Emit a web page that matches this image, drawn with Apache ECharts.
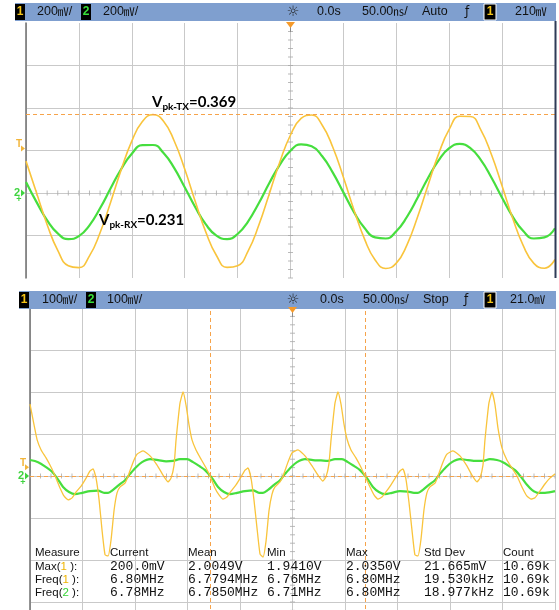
<!DOCTYPE html>
<html>
<head>
<meta charset="utf-8">
<script src="https://cdn.jsdelivr.net/npm/echarts@6/dist/echarts.min.js"></script>
<style>
  html, body { margin: 0; padding: 0; background: #fff; }
  #scope { width: 559px; height: 610px; }
</style>
</head>
<body>
<div id="scope"></div>
<script>
// ---- Upper capture: 200 mV/div, 50 ns/div (values in ns and mV) ----
const topTime = [-250,-240,-230,-220,-210,-200,-190,-180,-170,-160,-150,-140,-130,-120,-110,-100,-90,-80,-70,-60,-50,-40,-30,-20,-10,0,10,20,30,40,50,60,70,80,90,100,110,120,130,140,150,160,170,180,190,200,210,220,230,240,250];
const topCh1 = [150,0,-149,-270,-342,-351,-296,-187,-43,110,244,336,369,338,246,113,-40,-184,-294,-350,-342,-272,-152,-3,147,273,351,367,319,215,74,-80,-217,-315,-355,-330,-245,-114,37,184,299,361,360,296,180,33,-119,-248,-331,-354,-313];
const topCh2 = [52,-43,-129,-190,-217,-203,-152,-72,22,113,185,225,226,188,118,27,-67,-148,-201,-217,-193,-133,-48,47,134,199,229,220,173,96,3,-90,-165,-209,-214,-180,-113,-24,71,154,211,231,211,155,72,-22,-111,-179,-214,-209,-166];

// ---- Lower capture: 100 mV/div, 50 ns/div, [ns, mV] ----
const bottomCh1 = [
  [-250,171],[-246.1,121],[-243.2,86],[-239.4,62],[-234.7,43],[-229.9,21],[-226.1,0],[-221.3,-29],[-217.5,-48],[-213.7,-57],[-209.9,-52],[-206.1,-38],[-201.3,-24],[-196.6,-5],[-192.8,12],[-189.9,17],[-187.1,-5],[-184.2,-57],[-181.4,-129],[-178.5,-188],[-175.6,-190],[-172.8,-152],[-169.9,-81],[-167.1,-40],[-164.2,-26],[-159.5,-17],[-156.6,0],[-151.8,33],[-148.0,52],[-142.3,60],[-135.7,48],[-129.0,26],[-123.3,2],[-118.5,-14],[-115.7,-5],[-112.8,26],[-110.9,86],[-109.0,133],[-107.1,174],[-104.2,200],
  [-101.4,169],[-98.5,121],[-95.7,86],[-91.9,62],[-87.1,40],[-82.3,19],[-78.5,0],[-73.8,-29],[-70.0,-45],[-66.2,-55],[-62.4,-50],[-58.5,-36],[-53.8,-21],[-49.0,-2],[-45.2,14],[-42.4,19],[-39.5,-5],[-36.7,-57],[-33.8,-124],[-30.9,-186],[-28.1,-193],[-25.2,-155],[-22.4,-83],[-19.5,-43],[-16.7,-26],[-11.9,-14],[-9.0,0],[-4.3,33],[-0.5,55],[5.2,62],[11.9,48],[18.6,24],[24.3,2],[29.0,-12],[31.9,-2],[34.7,29],[36.7,86],[38.6,133],[40.5,174],[43.3,200],
  [46.2,171],[49.0,124],[51.9,88],[55.7,62],[60.4,43],[65.2,21],[69.0,0],[73.8,-26],[77.6,-45],[81.4,-55],[85.2,-50],[89.0,-38],[93.8,-21],[98.5,-2],[102.3,12],[105.2,17],[108.0,-7],[110.9,-62],[113.8,-129],[116.6,-188],[119.5,-190],[122.3,-152],[125.2,-81],[128.0,-40],[130.9,-26],[135.7,-17],[138.5,0],[143.3,33],[147.1,52],[152.8,60],[159.5,48],[166.1,24],[170.9,2],[175.7,-14],[178.5,-5],[181.4,26],[183.3,86],[185.2,133],[187.1,174],[190.0,200],
  [192.9,169],[195.7,114],[199.5,67],[204.2,38],[209.0,19],[213.8,0],[218.5,-26],[223.3,-48],[227.1,-55],[230.9,-52],[235.6,-36],[240.4,-19],[245.1,-5],[250,5]
];
const bottomCh2 = [
  [-250,38],[-242.3,33],[-234.7,21],[-229.0,10],[-224.2,-5],[-218.5,-26],[-212.8,-38],[-207.1,-43],[-200.4,-40],[-192.8,-36],[-185.2,-35],[-179.4,-40],[-175.6,-40],[-170.9,-33],[-165.2,-21],[-159.5,-10],[-154.7,5],[-149.0,21],[-143.3,33],[-135.7,40],[-128.0,38],[-120.4,35],[-113.8,36],[-107.1,40],[-100.4,40],
  [-94.7,33],[-89.0,24],[-83.3,14],[-76.6,-5],[-70.9,-26],[-65.2,-38],[-59.5,-43],[-52.8,-40],[-45.2,-36],[-37.6,-34],[-31.9,-40],[-28.1,-40],[-23.3,-33],[-17.6,-21],[-11.9,-10],[-7.1,5],[-1.4,21],[4.3,33],[11.9,40],[19.5,38],[27.1,37],[33.8,36],[40.5,40],[47.1,40],
  [52.8,33],[58.5,24],[64.3,14],[70.9,-5],[76.6,-26],[82.3,-38],[88.1,-43],[94.7,-40],[102.3,-36],[110.0,-37],[115.7,-40],[119.5,-40],[124.2,-33],[129.9,-21],[135.7,-10],[140.4,5],[146.1,21],[151.8,33],[159.5,40],[167.1,38],[174.7,36],[181.4,36],[188.0,40],
  [194.7,38],[200.4,33],[206.1,24],[211.9,14],[217.6,-2],[223.3,-21],[228.0,-33],[233.7,-40],[240.4,-40],[250,-36]
];

// Peak annotations (volts) and cursor / trigger settings
const vpkTX = 0.369;
const vpkRX = 0.231;
const cursorTimes = [-78.5, 69.0];      // ns, lower capture
const triggerLevels = [210, 21.0];      // mV on channel 1, upper / lower
const mvPerDiv = [200, 100];
const nsPerDiv = 50;

// Status bar texts
const topStatus = { ch1: '200', ch2: '200', delay: '0.0s', time: '50.00', mode: 'Auto', trig: '210' };
const bottomStatus = { ch1: '100', ch2: '100', delay: '0.0s', time: '50.00', mode: 'Stop', trig: '21.0' };

// Measurement table
const measureHeaders = ['Measure', 'Current', 'Mean', 'Min', 'Max', 'Std Dev', 'Count'];
const measureRows = [
  ['Max', '1', '200.0mV', '2.0049V', '1.9410V', '2.0350V', '21.665mV', '10.69k'],
  ['Freq', '1', '6.80MHz', '6.7794MHz', '6.76MHz', '6.80MHz', '19.530kHz', '10.69k'],
  ['Freq', '2', '6.78MHz', '6.7850MHz', '6.71MHz', '6.80MHz', '18.977kHz', '10.69k']
];

const YELLOW = '#f9c43c';
const GREEN = '#46de3e';
const ORANGE = '#f6a34a';
const GRIDC = '#c9c9c9';

const chart = echarts.init(document.getElementById('scope'), null, { renderer: 'canvas' });

function xAxisFor(g) {
  return {
    gridIndex: g, type: 'value', min: -5 * nsPerDiv, max: 5 * nsPerDiv, interval: nsPerDiv,
    axisLine: { show: false }, axisTick: { show: false }, axisLabel: { show: false },
    splitLine: { show: true, lineStyle: { color: GRIDC, width: 1 } }
  };
}
function yAxisFor(g, min, max, step) {
  return {
    gridIndex: g, type: 'value', min: min, max: max, interval: step,
    axisLine: { show: true, onZero: false, lineStyle: { color: '#6f6f6f', width: 1.5 } },
    axisTick: { show: false }, axisLabel: { show: false },
    splitLine: { show: true, showMinLine: false, showMaxLine: false, lineStyle: { color: GRIDC, width: 1 } }
  };
}

// minor graticule ticks on the centre cross-hair of each panel
function centreTicks(yMin, yMax, yStep) {
  const h = [], v = [];
  for (let t = -5 * nsPerDiv; t <= 5 * nsPerDiv + 1e-6; t += nsPerDiv / 5) h.push([t, 0]);
  for (let y = yMin; y <= yMax + 1e-6; y += yStep / 5) v.push([0, y]);
  return { h, v };
}
const tTop = centreTicks(-2 * mvPerDiv[0], 4 * mvPerDiv[0], mvPerDiv[0]);
const tBot = centreTicks(-4 * mvPerDiv[1], 4 * mvPerDiv[1], mvPerDiv[1]);

function tickSeries(g, data, size) {
  return {
    type: 'scatter', xAxisIndex: g, yAxisIndex: g, data: data, symbol: 'rect', symbolSize: size,
    itemStyle: { color: '#a9a9a9' }, silent: true, z: 1, animation: false
  };
}

const option = {
  animation: false,
  backgroundColor: '#ffffff',
  grid: [
    { left: 26, top: 23, width: 529, height: 255, outerBoundsMode: 'none' },
    { left: 30, top: 308, width: 525, height: 336, outerBoundsMode: 'none' }
  ],
  xAxis: [xAxisFor(0), xAxisFor(1)],
  yAxis: [
    yAxisFor(0, -2 * mvPerDiv[0], 4 * mvPerDiv[0], mvPerDiv[0]),
    yAxisFor(1, -4 * mvPerDiv[1], 4 * mvPerDiv[1], mvPerDiv[1])
  ],
  series: [
    tickSeries(0, tTop.h, [1, 5]),
    tickSeries(0, tTop.v, [5, 1]),
    tickSeries(1, tBot.h, [1, 5]),
    tickSeries(1, tBot.v, [5, 1]),
    {
      name: 'CH2 RX', type: 'line', xAxisIndex: 0, yAxisIndex: 0,
      data: topTime.map((t, i) => [t, topCh2[i]]),
      showSymbol: false, smooth: 0.5, lineStyle: { color: GREEN, width: 2.2 }, z: 3
    },
    {
      name: 'CH1 TX', type: 'line', xAxisIndex: 0, yAxisIndex: 0,
      data: topTime.map((t, i) => [t, topCh1[i]]),
      showSymbol: false, smooth: 0.5, lineStyle: { color: YELLOW, width: 1.6 }, z: 4,
      markLine: {
        silent: true, symbol: 'none', animation: false, label: { show: false },
        lineStyle: { color: ORANGE, type: [4, 3], width: 1 },
        data: [{ yAxis: vpkTX * 1000 }]
      }
    },
    {
      name: 'CH2 lower', type: 'line', xAxisIndex: 1, yAxisIndex: 1,
      data: bottomCh2, showSymbol: false, smooth: 0.3,
      lineStyle: { color: GREEN, width: 2.2 }, z: 3
    },
    {
      name: 'CH1 lower', type: 'line', xAxisIndex: 1, yAxisIndex: 1,
      data: bottomCh1, showSymbol: false, smooth: 0.15,
      lineStyle: { color: YELLOW, width: 1.3, join: 'round' }, z: 4,
      markLine: {
        silent: true, symbol: 'none', animation: false, label: { show: false },
        lineStyle: { color: ORANGE, type: [4, 3], width: 1 },
        data: [{ xAxis: cursorTimes[0] }, { xAxis: cursorTimes[1] }, { yAxis: 0 }]
      }
    }
  ]
};
chart.setOption(option);

// ---- overlay: status bars, level markers, annotations, measurement table ----
const SANS = 'Liberation Sans';
const MONO = 'Liberation Mono';
const CJK = 'Noto Sans CJK SC';

function txt(x, y, text, st) {
  return {
    type: 'text', x: x, y: y, silent: true, z: 120,
    style: Object.assign({ text: text, fill: '#111', fontSize: 12, fontFamily: SANS, verticalAlign: 'middle', align: 'left' }, st || {})
  };
}
function rect(x, y, w, h, st, z) {
  return { type: 'rect', silent: true, z: z || 110, shape: { x: x, y: y, width: w, height: h }, style: st };
}
const unitRich = {
  t: { fontSize: 12.5, fontFamily: SANS, fill: '#111' },
  u: { fontSize: 11, fontFamily: CJK, fill: '#111' }
};
function statusBar(y0, x0, s, pos) {
  const cy = y0 + 9;
  const els = [];
  els.push(rect(x0, y0, 556 - x0, 18, { fill: '#7f9fcf' }, 100));
  els.push(rect(pos.b1, y0 + 1, 10, 16, { fill: '#000' }));
  els.push(txt(pos.b1 + 5, cy, '1', { fill: '#f5c518', fontWeight: 'bold', align: 'center' }));
  els.push(txt(pos.v1, cy, '{t|' + s.ch1 + '}{u|㎷}{t|/}', { rich: unitRich }));
  els.push(rect(pos.b2, y0 + 1, 10, 16, { fill: '#000' }));
  els.push(txt(pos.b2 + 5, cy, '2', { fill: '#39e03a', fontWeight: 'bold', align: 'center' }));
  els.push(txt(pos.v2, cy, '{t|' + s.ch2 + '}{u|㎷}{t|/}', { rich: unitRich }));
  els.push(txt(293, cy, '☼', { fontFamily: 'DejaVu Sans', fontSize: 14, align: 'center', fill: '#222' }));
  els.push(txt(pos.d, cy, s.delay, { fontSize: 12.5 }));
  els.push(txt(pos.tb, cy, '{t|' + s.time + '}{u|㎱}{t|/}', { rich: unitRich }));
  els.push(txt(pos.m, cy, s.mode, { fontSize: 12.5 }));
  els.push(txt(pos.f, cy, 'ƒ', { fontFamily: 'DejaVu Sans', fontSize: 12 }));
  els.push(rect(484, y0 + 1, 12, 16, { fill: '#000', stroke: '#ffffff', lineWidth: 1 }));
  els.push(txt(490, cy, '1', { fill: '#f5c518', fontWeight: 'bold', align: 'center' }));
  els.push(txt(pos.tl, cy, '{t|' + s.trig + '}{u|㎷}', { rich: unitRich }));
  return els;
}

function levelMarkers(g, trigLevel) {
  const els = [];
  const gnd = chart.convertToPixel({ gridIndex: g }, [-5 * nsPerDiv, 0]);
  const trg = chart.convertToPixel({ gridIndex: g }, [-5 * nsPerDiv, trigLevel]);
  const x = gnd[0];
  // trigger level
  els.push({ type: 'polygon', silent: true, z: 120, shape: { points: [[x - 5, trg[1] - 3], [x - 1, trg[1]], [x - 5, trg[1] + 3]] }, style: { fill: '#f2b53a' } });
  els.push(txt(x - 7, trg[1] - 4, 'T', { fill: '#f2b53a', fontSize: 10, fontWeight: 'bold', align: 'center' }));
  // channel 2 ground
  els.push({ type: 'polygon', silent: true, z: 120, shape: { points: [[x - 5, gnd[1] - 3.5], [x - 1, gnd[1]], [x - 5, gnd[1] + 3.5]] }, style: { fill: '#3fd43f' } });
  els.push(txt(x - 9, gnd[1], '2', { fill: '#3fd43f', fontSize: 11, fontWeight: 'bold', align: 'center' }));
  els.push(txt(x - 7, gnd[1] + 7, '+', { fill: '#3fd43f', fontSize: 9, fontWeight: 'bold', align: 'center' }));
  // trigger time reference
  const tp = chart.convertToPixel({ gridIndex: g }, [0, g === 0 ? 4 * mvPerDiv[0] : 4 * mvPerDiv[1]]);
  els.push({ type: 'polygon', silent: true, z: 120, shape: { points: [[tp[0] - 4.5, tp[1] - 1], [tp[0] + 4.5, tp[1] - 1], [tp[0], tp[1] + 5]] }, style: { fill: '#f59a2a' } });
  els.push({ type: 'line', silent: true, z: 119, shape: { x1: tp[0], y1: tp[1] + 4, x2: tp[0], y2: tp[1] + 9 }, style: { stroke: '#8a8a8a', lineWidth: 1 } });
  return els;
}

const annRich = {
  v: { fontSize: 15, fontWeight: 'bold', fontFamily: 'Lato', fill: '#000', lineHeight: 20, verticalAlign: 'middle' },
  s: { fontSize: 10, fontWeight: 'bold', fontFamily: 'Lato', fill: '#000', lineHeight: 10, verticalAlign: 'bottom' }
};

function measureTable() {
  const els = [];
  const cols = [35, 110, 188, 267, 346, 424, 503];
  const rowsY = [553, 567, 580, 593];
  measureHeaders.forEach((h, i) => els.push(txt(cols[i], rowsY[0], h, { fontSize: 11.5 })));
  measureRows.forEach((r, j) => {
    const chColor = r[1] === '1' ? '#f0b400' : '#35d335';
    els.push(txt(cols[0], rowsY[j + 1], '{a|' + r[0] + '(}{c|' + r[1] + '}{a| ):}', {
      rich: { a: { fontSize: 11.5, fontFamily: SANS, fill: '#111' }, c: { fontSize: 11.5, fontFamily: SANS, fill: chColor } }
    }));
    for (let k = 2; k < r.length; k++) {
      els.push(txt(cols[k - 1], rowsY[j + 1], r[k], { fontFamily: MONO, fontSize: 13 }));
    }
  });
  return els;
}

const graphics = []
  .concat(statusBar(3, 15, topStatus, { b1: 15, v1: 37, b2: 81, v2: 103, d: 317, tb: 362, m: 422, f: 465, tl: 515 }))
  .concat(statusBar(291, 19, bottomStatus, { b1: 19, v1: 42, b2: 86, v2: 107, d: 320, tb: 363, m: 423, f: 464, tl: 510 }))
  .concat(levelMarkers(0, triggerLevels[0]))
  .concat(levelMarkers(1, triggerLevels[1]))
  .concat([
    { type: 'line', silent: true, z: 115, shape: { x1: 555.5, y1: 21, x2: 555.5, y2: 278 }, style: { stroke: '#2e3b57', lineWidth: 2 } },
    txt(152, 102, '{v|V}{s|pk-TX}{v|=' + vpkTX.toFixed(3) + '}', { rich: annRich }),
    txt(99, 220, '{v|V}{s|pk-RX}{v|=' + vpkRX.toFixed(3) + '}', { rich: annRich })
  ])
  .concat(measureTable());

chart.setOption({ graphic: graphics });
</script>
</body>
</html>
